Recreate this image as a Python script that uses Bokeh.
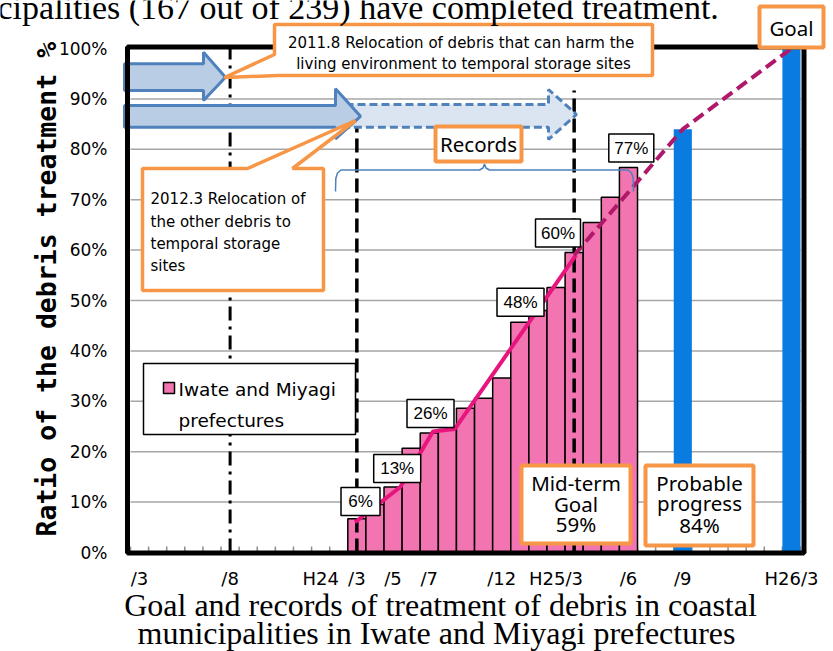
import math
from bokeh.plotting import figure
from bokeh.models import FixedTicker, PrintfTickFormatter, Range1d
from bokeh.core.properties import value
from bokeh.embed import file_html
from bokeh.resources import INLINE

# ---------------- data ----------------
PINK_MONTHS = ["2012/3", "2012/4", "2012/5", "2012/6", "2012/7", "2012/8",
               "2012/9", "2012/10", "2012/11", "2012/12", "2013/1", "2013/2",
               "2013/3", "2013/4", "2013/5", "2013/6"]
PINK_VALUES = [6.7, 9.5, 13.0, 20.7, 23.7, 24.4, 28.6, 30.6, 34.6, 45.7,
               48.0, 52.6, 59.5, 65.5, 70.5, 76.4]
BLUE_MONTHS = ["2013/9", "2014/3"]
BLUE_VALUES = [84, 100]
RECORD_X = [12.4, 14.9, 16.7, 17.9, 24.6]      # months after 2011/3
RECORD_Y = [6, 13, 24, 24.5, 59]
GOAL_MONTHS = ["2013/3", "2013/9", "2014/3"]
GOAL_VALUES = [59, 84, 100]
RECORD_LABELS = ["6%", "13%", "26%", "48%", "60%", "77%"]
Y_TICKS = [0, 10, 20, 30, 40, 50, 60, 70, 80, 90, 100]
X_TICK_MONTHS = ["2011/3", "2011/8", "2012/1", "2012/3", "2012/5", "2012/7",
                 "2012/11", "2013/2", "2013/6", "2013/9", "2014/3"]
X_TICK_LABELS = ["/3", "/8", "H24", "/3", "/5", "/7", "/12", "H25/3", "/6", "/9", "H26/3"]
VLINE_MONTHS = ["2011/8", "2012/3", "2013/3"]
LEGEND_LINES = ["Iwate and Miyagi", "prefectures"]
N_MONTHS = 37


def mpos(s):
    y, m = map(int, s.split("/"))
    return (y - 2011) * 12 + (m - 3) + 0.5


# -------------- layout helpers (pixel -> data) --------------
W, H = 833, 651
FL, FR, FT, FB = 130, 800, 48, 552


def dx(X):
    return (X - FL) / (FR - FL) * N_MONTHS


def dy(Y):
    return (FB - Y) / (FB - FT) * 100


ORANGE = "#F79646"
PINK = "#F274B0"
BLUE = "#0A7BE0"

p = figure(width=W, height=H, x_range=Range1d(dx(0), dx(W)), y_range=Range1d(dy(H), dy(0)),
           output_backend="svg", toolbar_location=None, title=None,
           min_border_left=0, min_border_right=0, min_border_top=0, min_border_bottom=0)
p.outline_line_color = None
p.background_fill_color = "white"
p.border_fill_color = "white"
p.xgrid.visible = False
p.ygrid.visible = False

# axes drawn at the chart's edges
p.yaxis.fixed_location = 0
p.yaxis.ticker = FixedTicker(ticks=Y_TICKS)
p.yaxis.formatter = PrintfTickFormatter(format="%d%%")
p.yaxis.axis_line_color = None
p.yaxis.major_tick_line_color = None
p.yaxis.minor_tick_line_color = None
p.yaxis.major_tick_out = 0
p.yaxis.minor_tick_out = 0
p.yaxis.major_label_standoff = 23
p.yaxis.major_label_text_font = "DejaVu Sans"
p.yaxis.major_label_text_font_size = "17px"
p.yaxis.major_label_text_color = "black"

tick_pos = [mpos(m) for m in X_TICK_MONTHS]
p.xaxis.fixed_location = 0
p.xaxis.ticker = FixedTicker(ticks=tick_pos)
p.xaxis.major_label_overrides = {t: l for t, l in zip(tick_pos, X_TICK_LABELS)}
p.xaxis.axis_line_color = None
p.xaxis.major_tick_line_color = None
p.xaxis.minor_tick_line_color = None
p.xaxis.major_tick_out = 0
p.xaxis.minor_tick_out = 0
p.xaxis.major_label_standoff = 15
p.xaxis.major_label_text_font = "DejaVu Sans"
p.xaxis.major_label_text_font_size = "18px"
p.xaxis.major_label_text_color = "black"

# horizontal grid lines and month ticks
p.segment(x0=[0] * 9, x1=[N_MONTHS] * 9, y0=Y_TICKS[1:-1], y1=Y_TICKS[1:-1],
          line_color="#A6A6A6", line_width=1.5)
months = list(range(N_MONTHS + 1))
p.segment(x0=months, x1=months, y0=[0] * len(months), y1=[dy(546)] * len(months),
          line_color="#8C8C8C", line_width=1.5)

# bars
p.vbar(x=[mpos(m) for m in PINK_MONTHS], top=PINK_VALUES, width=1.0,
       fill_color=PINK, line_color="black", line_width=1.5)
p.vbar(x=[mpos(m) for m in BLUE_MONTHS], top=BLUE_VALUES, width=1.0,
       fill_color=BLUE, line_color=None)

# vertical reference lines
vx = [mpos(m) for m in VLINE_MONTHS]
p.segment(x0=[vx[0]], y0=[0], x1=[vx[0]], y1=[100], line_color="black",
          line_width=3, line_dash="14 6 3 6")
p.segment(x0=vx[1:], y0=[0, 0], x1=vx[1:], y1=[dy(108), dy(90)], line_color="black",
          line_width=3.5, line_dash="14 6")

# record line and goal line
p.line(RECORD_X, RECORD_Y, line_color="#E8157E", line_width=4)
p.line([mpos(m) for m in GOAL_MONTHS], GOAL_VALUES, line_color="#B0186A",
       line_width=4, line_dash="12 6")


# block arrows
def arrow(x0, xb, xt, bt, bb, ht, hb, ym):
    pts = [(x0, bt), (xb, bt), (xb, ht), (xt, ym), (xb, hb), (xb, bb), (x0, bb)]
    return [dx(a) for a, _ in pts], [dy(b) for _, b in pts]


ax, ay = arrow(345, 548, 576, 104, 126.7, 89, 139, 114)
p.patch(ax, ay, fill_color="#DBE5F1", line_color="#4F81BD", line_width=3, line_dash="8 4")
for args in [(124, 203, 225, 63.3, 90, 51.7, 100, 76.7),
             (124, 335, 360, 105, 126.7, 88.3, 138.3, 115.8)]:
    ax, ay = arrow(*args)
    p.patch(ax, ay, fill_color="#B9CDE5", line_color="#4F81BD", line_width=3)

# brace over records
brace = [(335, 191), (335.3, 178), (337, 172.5), (340.5, 169.5), (479, 169.5), (482.5, 167.5),
         (484, 163.5), (485.5, 167.5), (489, 169.5), (627.5, 169.5), (631, 172.5),
         (632.7, 178), (633, 191)]
p.line([dx(a) for a, _ in brace], [dy(b) for _, b in brace], line_color="#4F81BD", line_width=1.5)

# chart border
p.quad(left=[dx(127)], right=[dx(803.5)], top=[dy(46.5)], bottom=[dy(552.5)],
       fill_color=None, line_color="black", line_width=5)


def quad(l, t, r, b, **kw):
    p.quad(left=[dx(l)], right=[dx(r)], top=[dy(t)], bottom=[dy(b)], **kw)


def poly(pts, **kw):
    p.patch([dx(a) for a, _ in pts], [dy(b) for _, b in pts], **kw)


def texts(xs, ys, txt, font, size, align="center", baseline="middle", **kw):
    p.text(x=[dx(v) for v in xs], y=[dy(v) for v in ys], text=txt,
           text_font=value(font), text_font_size=value(size), text_color="black",
           text_align=align, text_baseline=baseline, **kw)


# legend
quad(143, 363, 355, 434, fill_color="white", line_color="black", line_width=1.5)
quad(163, 382, 174, 393, fill_color=PINK, line_color="black", line_width=1.5)
texts([178, 178], [389, 420], LEGEND_LINES, "DejaVu Sans", "18.5px", align="left")

# callout 2
poly([(142, 168), (247, 168), (355, 120), (292, 168), (323, 168), (323, 290), (142, 290)],
     fill_color="white", line_color=ORANGE, line_width=3.5)
texts([150] * 4, [198, 221, 243.5, 265.5],
      ["2012.3 Relocation of", "the other debris to", "temporal storage", "sites"],
      "DejaVu Sans", "15px", align="left")

# callout 1
poly([(274, 24), (652, 24), (652, 75), (277, 75), (224, 77), (274, 54)],
     fill_color="white", line_color=ORANGE, line_width=3.5)
texts([463, 463], [42, 63], ["2011.8 Relocation of debris  that can harm the",
                             "living environment to temporal storage sites"],
      "DejaVu Sans", "15px")

# Records box
quad(435, 126, 521, 161, fill_color="white", line_color=ORANGE, line_width=4)
texts([478], [143.5], ["Records"], "Noto Sans", "20.5px")

# Goal box
quad(759, 6, 823, 47, fill_color="white", line_color=ORANGE, line_width=4)
texts([791], [27], ["Goal"], "Noto Sans", "20.5px")

# Mid-term / Probable boxes
quad(521, 465, 630, 543, fill_color="white", line_color=ORANGE, line_width=4)
texts([575.5] * 3, [482, 503, 523.5], ["Mid-term", "Goal", f"{GOAL_VALUES[0]}%"],
      "Noto Sans", "20.5px")
quad(645, 465, 753, 545, fill_color="white", line_color=ORANGE, line_width=4)
texts([699] * 3, [482, 502, 524], ["Probable", "progress", f"{GOAL_VALUES[1]}%"],
      "Noto Sans", "20.5px")

# record value labels
LCX = [360, 396.7, 430, 520, 557.5, 630.8]
LCY = [501, 468, 413, 301.7, 232.5, 147.5]
LW = [39, 47, 47, 47, 45, 45]
p.rect(x=[dx(v) for v in LCX], y=[dy(v) for v in LCY], width=LW, height=28,
       width_units="screen", height_units="screen", fill_color="white",
       line_color="black", line_width=1.5)
texts(LCX, LCY, RECORD_LABELS, "Liberation Sans", "17px")

# y-axis title (rotated)
p.text(x=[dx(46)], y=[dy(536)], text=["Ratio of the debris treatment %"], angle=math.pi / 2,
       text_align="left", text_baseline="alphabetic", text_font=value("DejaVu Sans Mono"),
       text_font_style="bold", text_font_size=value("26.5px"), text_color="black")

# top text (cut off at the top, as in the source) and caption
texts([-3], [7], ["cipalities (167 out of 239) have completed treatment."],
      "Liberation Serif", "34px", align="left", baseline="alphabetic")
texts([440, 436], [604, 632], ["Goal and records of treatment of debris in coastal",
                               "municipalities in Iwate and Miyagi prefectures"],
      "Liberation Serif", "32px", baseline="alphabetic")

open("out.html", "w").write(file_html(p, INLINE))
